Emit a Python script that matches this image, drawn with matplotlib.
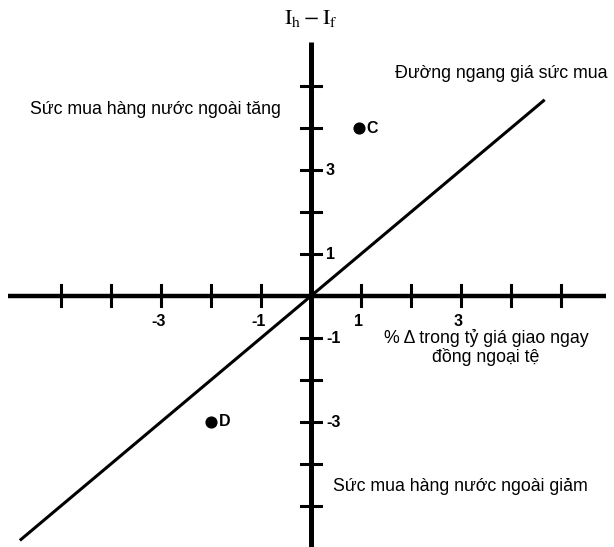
import matplotlib
matplotlib.use("Agg")
import matplotlib.pyplot as plt
import numpy as np

plt.rcParams['font.family'] = ['Liberation Sans', 'DejaVu Sans']
plt.rcParams['mathtext.fontset'] = 'stix'

# data
x_ticks = [-5, -4, -3, -2, -1, 1, 2, 3, 4, 5]
x_tick_labels = {-3: "-3", -1: "-1", 1: "1", 3: "3"}
y_ticks = [-5, -4, -3, -2, -1, 1, 2, 3, 4, 5]
y_tick_labels = {3: "3", 1: "1", -1: "-1", -3: "-3"}
parity_x = [-5.8, 4.65]
parity_y = [-5.8, 4.65]
points_name = ["C", "D"]
points_x = [0.95, -2.0]
points_y = [4.0, -3.0]

fig = plt.figure(figsize=(6.14, 5.47), dpi=100)
ax = fig.add_axes([0, 0, 1, 1])
ax.set_xlim(-6.22, 6.06)
ax.set_ylim(-5.98, 7.05)
ax.axis('off')

# axes lines
ax.plot([-6.06, 5.9], [0, 0], color='black', lw=3.2, solid_capstyle='butt')
ax.plot([0, 0], [-6.0, 6.05], color='black', lw=3.6, solid_capstyle='butt')

# ticks
tx = 0.2
ty = 0.25
for t in x_ticks:
    ax.plot([t, t], [-ty, ty], color='black', lw=2.2)
for t in y_ticks:
    ax.plot([-tx, tx], [t, t], color='black', lw=2.2)

for t, s in x_tick_labels.items():
    ax.text(t - 0.05, -0.62, s, ha='center', va='center', fontsize=11.5, fontweight='bold')
for t, s in y_tick_labels.items():
    ax.text(0.3, t - 0.02, s, ha='left', va='center', fontsize=11.5, fontweight='bold')

# parity line
ax.plot(parity_x, parity_y, color='black', lw=2.2)

# points
ax.scatter(points_x, points_y, s=60, color='black', zorder=5)
for n, px, py in zip(points_name, points_x, points_y):
    ax.text(px + 0.15, py, n, ha='left', va='center', fontsize=11.5, fontweight='bold')

# labels
ax.text(0.0, 6.62, r'$\mathrm{I_h - I_f}$', ha='center', va='center', fontsize=16)
ax.text(-5.62, 4.45, "Sức mua hàng nước ngoài tăng", ha='left', va='center', fontsize=12.8)
ax.text(1.68, 5.3, "Đường ngang giá sức mua", ha='left', va='center', fontsize=12.8)
ax.text(3.5, -1.23, "% Δ trong tỷ giá giao ngay\nđồng ngoại tệ", ha='center', va='center',
        fontsize=12.8, linespacing=1.05)
ax.text(0.44, -4.55, "Sức mua hàng nước ngoài giảm", ha='left', va='center', fontsize=12.8)

fig.savefig("out.png", dpi=100)
